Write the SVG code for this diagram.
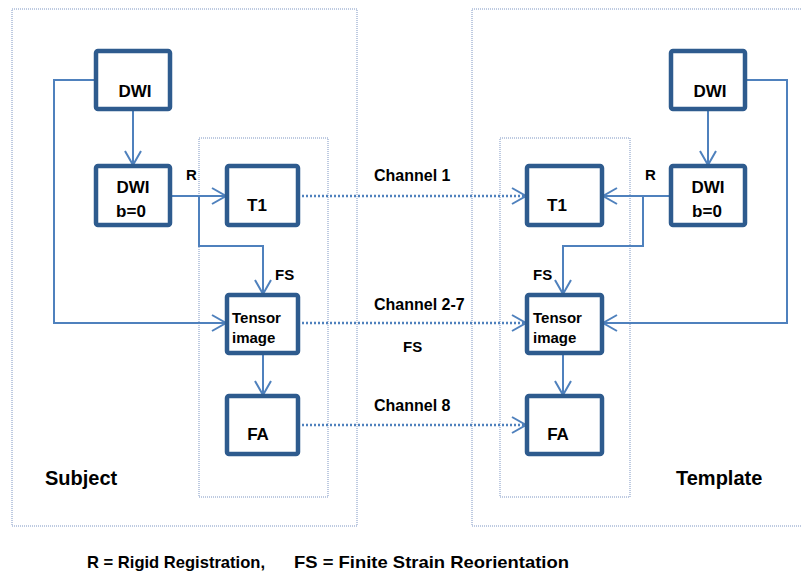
<svg xmlns="http://www.w3.org/2000/svg" width="802" height="575" viewBox="0 0 802 575">
<defs>
<style>
.node{fill:#fff;stroke:#2E5B8E;stroke-width:4.5}
.txt{font-family:"Liberation Sans",Arial,sans-serif;font-weight:bold;fill:#000}
.n{font-size:17px}
.lbl{font-size:15px}
.ch{font-size:16px}
.big{font-size:20px}
.ft{font-size:17px}
.wire{fill:none;stroke:#4F81BD;stroke-width:2}
.dot{fill:none;stroke:#4F81BD;stroke-width:2.5;stroke-dasharray:2 2}
.frame{fill:none;stroke:#7D95C2;stroke-width:1;stroke-dasharray:1 1}
</style>
<marker id="ar" markerUnits="userSpaceOnUse" markerWidth="18" markerHeight="20" refX="15" refY="9" orient="auto">
<path d="M1,1 L15,9 L1,17" fill="none" stroke="#4F81BD" stroke-width="2"/>
</marker>
</defs>
<rect width="802" height="575" fill="#fff"/>
<g id="frames">
<rect class="frame" x="12" y="9" width="345" height="517"/>
<rect class="frame" x="472" y="9" width="335" height="517"/>
<rect class="frame" x="199" y="138" width="129" height="359"/>
<rect class="frame" x="500" y="138" width="130" height="359"/>
</g>
<g id="connectors">
<path class="wire" d="M133,109 V165" marker-end="url(#ar)"/>
<path class="wire" d="M96,80 H54 V323 H226" marker-end="url(#ar)"/>
<path class="wire" d="M170,196 H226" marker-end="url(#ar)"/>
<path class="wire" d="M199,196 V246 H263 V294" marker-end="url(#ar)"/>
<path class="wire" d="M263,353 V395" marker-end="url(#ar)"/>
<path class="dot" d="M298,196 H526" marker-end="url(#ar)"/>
<path class="dot" d="M298,323 H526" marker-end="url(#ar)"/>
<path class="dot" d="M298,425 H526" marker-end="url(#ar)"/>
<path class="wire" d="M708,109 V165" marker-end="url(#ar)"/>
<path class="wire" d="M745,80 H787 V323 H603" marker-end="url(#ar)"/>
<path class="wire" d="M671,196 H603" marker-end="url(#ar)"/>
<path class="wire" d="M643,196 V246 H563 V294" marker-end="url(#ar)"/>
<path class="wire" d="M563,353 V395" marker-end="url(#ar)"/>
</g>
<g id="labels">
<text class="txt lbl" x="186" y="180">R</text>
<text class="txt lbl" x="275" y="280">FS</text>
<text class="txt lbl" x="645" y="180">R</text>
<text class="txt lbl" x="533" y="280">FS</text>
<text class="txt ch" x="374" y="181">Channel 1</text>
<text class="txt ch" x="374" y="310">Channel 2-7</text>
<text class="txt lbl" x="403" y="352">FS</text>
<text class="txt ch" x="374" y="411">Channel 8</text>
<text class="txt big" x="45" y="485">Subject</text>
<text class="txt big" x="676" y="485">Template</text>
<text class="txt ft" x="87" y="568" textLength="178" lengthAdjust="spacingAndGlyphs">R = Rigid Registration,</text>
<text class="txt ft" x="294" y="568" textLength="275" lengthAdjust="spacingAndGlyphs">FS = Finite Strain Reorientation</text>
</g>
<g id="s_dwi"><rect class="node" x="96" y="51" width="74" height="58" rx="2"/><text class="txt n" x="135" y="97" text-anchor="middle">DWI</text></g>
<g id="s_dwib0"><rect class="node" x="96" y="166" width="74" height="59" rx="2"/><text class="txt n" x="133" y="193" text-anchor="middle">DWI</text><text class="txt n" x="131" y="217" text-anchor="middle">b=0</text></g>
<g id="s_t1"><rect class="node" x="227" y="166" width="71" height="59" rx="2"/><text class="txt n" x="257" y="211" text-anchor="middle">T1</text></g>
<g id="s_tensor"><rect class="node" x="227" y="295" width="71" height="58" rx="2"/><text class="txt lbl" x="232" y="323">Tensor</text><text class="txt lbl" x="232" y="343">image</text></g>
<g id="s_fa"><rect class="node" x="227" y="396" width="71" height="58" rx="2"/><text class="txt n" x="258" y="440" text-anchor="middle">FA</text></g>
<g id="t_dwi"><rect class="node" x="671" y="51" width="74" height="58" rx="2"/><text class="txt n" x="710" y="97" text-anchor="middle">DWI</text></g>
<g id="t_dwib0"><rect class="node" x="671" y="166" width="74" height="59" rx="2"/><text class="txt n" x="708" y="193" text-anchor="middle">DWI</text><text class="txt n" x="707" y="217" text-anchor="middle">b=0</text></g>
<g id="t_t1"><rect class="node" x="527" y="166" width="75" height="59" rx="2"/><text class="txt n" x="557" y="211" text-anchor="middle">T1</text></g>
<g id="t_tensor"><rect class="node" x="527" y="295" width="75" height="58" rx="2"/><text class="txt lbl" x="533" y="323">Tensor</text><text class="txt lbl" x="533" y="343">image</text></g>
<g id="t_fa"><rect class="node" x="527" y="396" width="75" height="58" rx="2"/><text class="txt n" x="558" y="440" text-anchor="middle">FA</text></g>
</svg>
